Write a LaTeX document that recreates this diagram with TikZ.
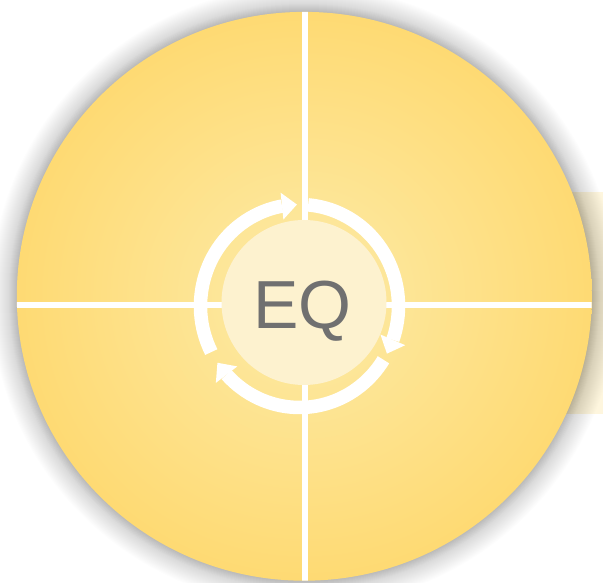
\documentclass[tikz,border=0pt]{standalone}
\usepackage{fontspec}
\setmainfont{Liberation Sans}
\usetikzlibrary{arrows.meta,bending}
\definecolor{yc}{RGB}{253,235,168}
\definecolor{ye}{RGB}{254,218,115}
\definecolor{innerfill}{RGB}{253,242,207}
\definecolor{txtgray}{RGB}{112,112,112}
\definecolor{cream}{RGB}{254,246,222}
\pgfdeclareradialshading{yelshade}{\pgfpoint{0bp}{0bp}}{color(0bp)=(yc); color(25bp)=(ye); color(50bp)=(ye)}
\begin{document}
\begin{tikzpicture}[x=1pt,y=1pt,
  ringarc/.style={draw=white, line width=13.5pt, line cap=butt,
    -{Triangle[width=27pt,length=15pt,line width=0pt]}},
  divider/.style={draw=white, line width=6pt}]
\clip (0,0) rectangle (603,583);
\fill[white] (0,0) rectangle (603,583);
% pale box behind the disc
\fill[cream] (560,169) rectangle (603,391);
% soft shadow
\foreach \k in {1,...,26} {
  \fill[black, opacity=0.0095] (304.3,286.7) ellipse [x radius=287.5+\k, y radius=284.4+\k];
}
\foreach \k in {1,...,8} {
  \fill[black, opacity=0.006] (304.3,286.7) ellipse [x radius=287.5+\k, y radius=284.4+\k];
}
% disc
\shade[shading=yelshade] (304.3,286.7) ellipse [x radius=287.5, y radius=284.4];
\begin{scope}
  \clip (304.3,286.7) ellipse [x radius=287.5, y radius=284.4];
  \draw[divider] (305,0) -- (305,583);
  \draw[divider] (0,278) -- (603,278);
\end{scope}
% centre circle
\fill[innerfill] (304,280.5) circle [radius=82.5];
% cycle arrows
\coordinate (ring) at (299.5,277);
\draw[ringarc] (ring) ++(207:99 and 101.5) arc[start angle=207, end angle=91.5, x radius=99, y radius=101.5];
\draw[ringarc] (ring) ++(85:99 and 101.5) arc[start angle=85, end angle=-28, x radius=99, y radius=101.5];
\draw[ringarc] (ring) ++(-32:99 and 101.5) arc[start angle=-32, end angle=-146, x radius=99, y radius=101.5];
\node[text=txtgray, font=\fontsize{68}{68}\selectfont, inner sep=0pt, anchor=base] (eq) at (302.5,254.5) {EQ};
\end{tikzpicture}
\end{document}
